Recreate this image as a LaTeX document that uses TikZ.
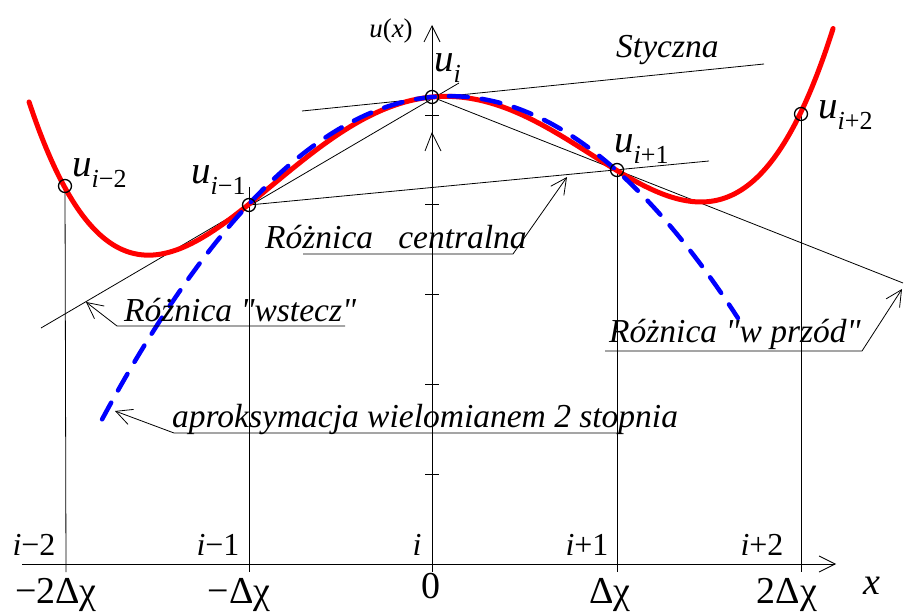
\documentclass[tikz,border=0pt]{standalone}
\usepackage{fontspec}
\setmainfont{Liberation Serif}[Ligatures=TeXOff]
\usetikzlibrary{arrows.meta}
\newcommand\ulab[1]{{\fontsize{39}{39}\selectfont\itshape u}{\fontsize{26}{26}\selectfont\raisebox{-0.4em}{#1}}}
\begin{document}
\begin{tikzpicture}[x=1pt,y=-1pt,
  thinline/.style={line width=0.8pt,black},
  barb/.style={-{Straight Barb[length=16pt,width=16pt,line width=0.8pt]}},
  lab/.style={inner sep=0pt,anchor=base west},
  note/.style={inner sep=0pt,anchor=base west,font=\fontsize{33.5}{33.5}\selectfont\itshape},
  idx/.style={inner sep=0pt,anchor=base,font=\fontsize{32}{32}\selectfont},
  val/.style={inner sep=0pt,anchor=base,font=\fontsize{38}{38}\selectfont},
  pt/.style={circle,draw=black,line width=1.3pt,inner sep=0pt,minimum size=13pt}]
\useasboundingbox (0,0) rectangle (904,612);
% points
\coordinate (Pm2) at (65,186);
\coordinate (Pm1) at (249,205);
\coordinate (P0) at (432,97);
\coordinate (Pp1) at (617,170);
\coordinate (Pp2) at (801,114);
% axes
\coordinate (xa0) at (22,564);
\coordinate (xa1) at (836,564);
\coordinate (ya0) at (432,572);
\coordinate (ya1) at (432,25);
\draw[thinline,barb] (xa0) -- (xa1);
\draw[thinline,barb] (ya0) -- (ya1);
\foreach \yy in {115,204,294,384,474}{\draw[thinline] (425,\yy) -- (439,\yy);}
\draw[thinline] (425,151) -- (432,133) -- (441,151);
% vertical lines
\coordinate (vm2) at (66,572);
\coordinate (vm1) at (249,572);
\coordinate (vp1) at (617,572);
\coordinate (vp2) at (801,572);
\coordinate (vm1top) at (249,187);
\draw[thinline] (Pm2) -- (vm2);
\draw[thinline] (vm1top) -- (vm1);
\draw[thinline] (Pp1) -- (vp1);
\draw[thinline] (Pp2) -- (vp2);
% difference lines
\coordinate (bL) at (41,328);
\coordinate (bR) at (459,83);
\draw[thinline] (bL) -- (bR);
\coordinate (fR) at (903,283);
\draw[thinline] (P0) -- (fR);
\coordinate (cR) at (709,161);
\draw[thinline] (Pm1) -- (cR);
\coordinate (tL) at (302,111);
\coordinate (tR) at (764,64);
\draw[thinline] (tL) -- (tR);
% curves
\draw[red,line width=5pt,line cap=round] plot[domain=-2.19:2.18,samples=150,smooth]
  ({432+184*\x},{97-17.33*\x+116.25*\x*\x-0.1667*\x*\x*\x-25.75*\x*\x*\x*\x});
\draw[blue,line width=4.5pt,line cap=round,dash pattern=on 19pt off 14pt] plot[domain=-1.793:1.663,samples=120,smooth]
  ({432+184*\x},{97-17.5*\x+90.5*\x*\x});
% node circles
\foreach \p in {Pm2,Pm1,P0,Pp1,Pp2}{\node[pt] at (\p) {};}
% point labels
\node[lab] (um2) at (72,177) {\ulab{\textit{i}−2}};
\node[lab] (um1) at (191,184) {\ulab{\textit{i}−1}};
\node[lab] (u0) at (434,72) {\ulab{\textit{i}}};
\node[lab] (up1) at (614,153) {\ulab{\textit{i}+1}};
\node[lab] (up2) at (818,119) {\ulab{\textit{i}+2}};
\node[inner sep=0pt,anchor=base,font=\fontsize{27}{27}\selectfont] (ux) at (391,38) {\textit{u}(\textit{x})};
% annotations
\node[note] (sty) at (616,58) {Styczna};
\node[note] (cen) at (265,249) {Różnica\hspace{0.5em} centralna};
\node[note] (wst) at (124,321) {Różnica "wstecz"};
\node[note] (apr) at (172,427) {aproksymacja wielomianem 2 stopnia};
\node[note] (prz) at (609,342) {Różnica "w przód"};
% leaders
\coordinate (c1) at (303,254); \coordinate (c2) at (513,254); \coordinate (c3) at (567,177);
\draw[thinline,barb] (c1) -- (c2) -- (c3);
\coordinate (w1) at (345,326); \coordinate (w2) at (117,326); \coordinate (w3) at (86,302);
\draw[thinline,barb] (w1) -- (w2) -- (w3);
\coordinate (a1) at (622,433); \coordinate (a2) at (174,433); \coordinate (a3) at (115,411);
\draw[thinline,barb] (a1) -- (a2) -- (a3);
\coordinate (p1) at (605,351); \coordinate (p2) at (862,351); \coordinate (p3) at (902,289);
\draw[thinline,barb] (p1) -- (p2) -- (p3);
% axis labels
\node[idx] (im2) at (34,555) {\textit{i}−2};
\node[idx] (im1) at (218,555) {\textit{i}−1};
\node[idx] (i0) at (417,555) {\textit{i}};
\node[idx] (ip1) at (587,555) {\textit{i}+1};
\node[idx] (ip2) at (762,555) {\textit{i}+2};
\node[val] (vm2l) at (56,603) {−2Δχ};
\node[val] (vm1l) at (239,603) {−Δχ};
\node[val] (v0l) at (431,598) {0};
\node[val] (vp1l) at (610,603) {Δχ};
\node[val] (vp2l) at (787,603) {2Δχ};
\node[val,font=\fontsize{38}{38}\selectfont\itshape] (xl) at (872,594) {x};
\end{tikzpicture}
\end{document}
